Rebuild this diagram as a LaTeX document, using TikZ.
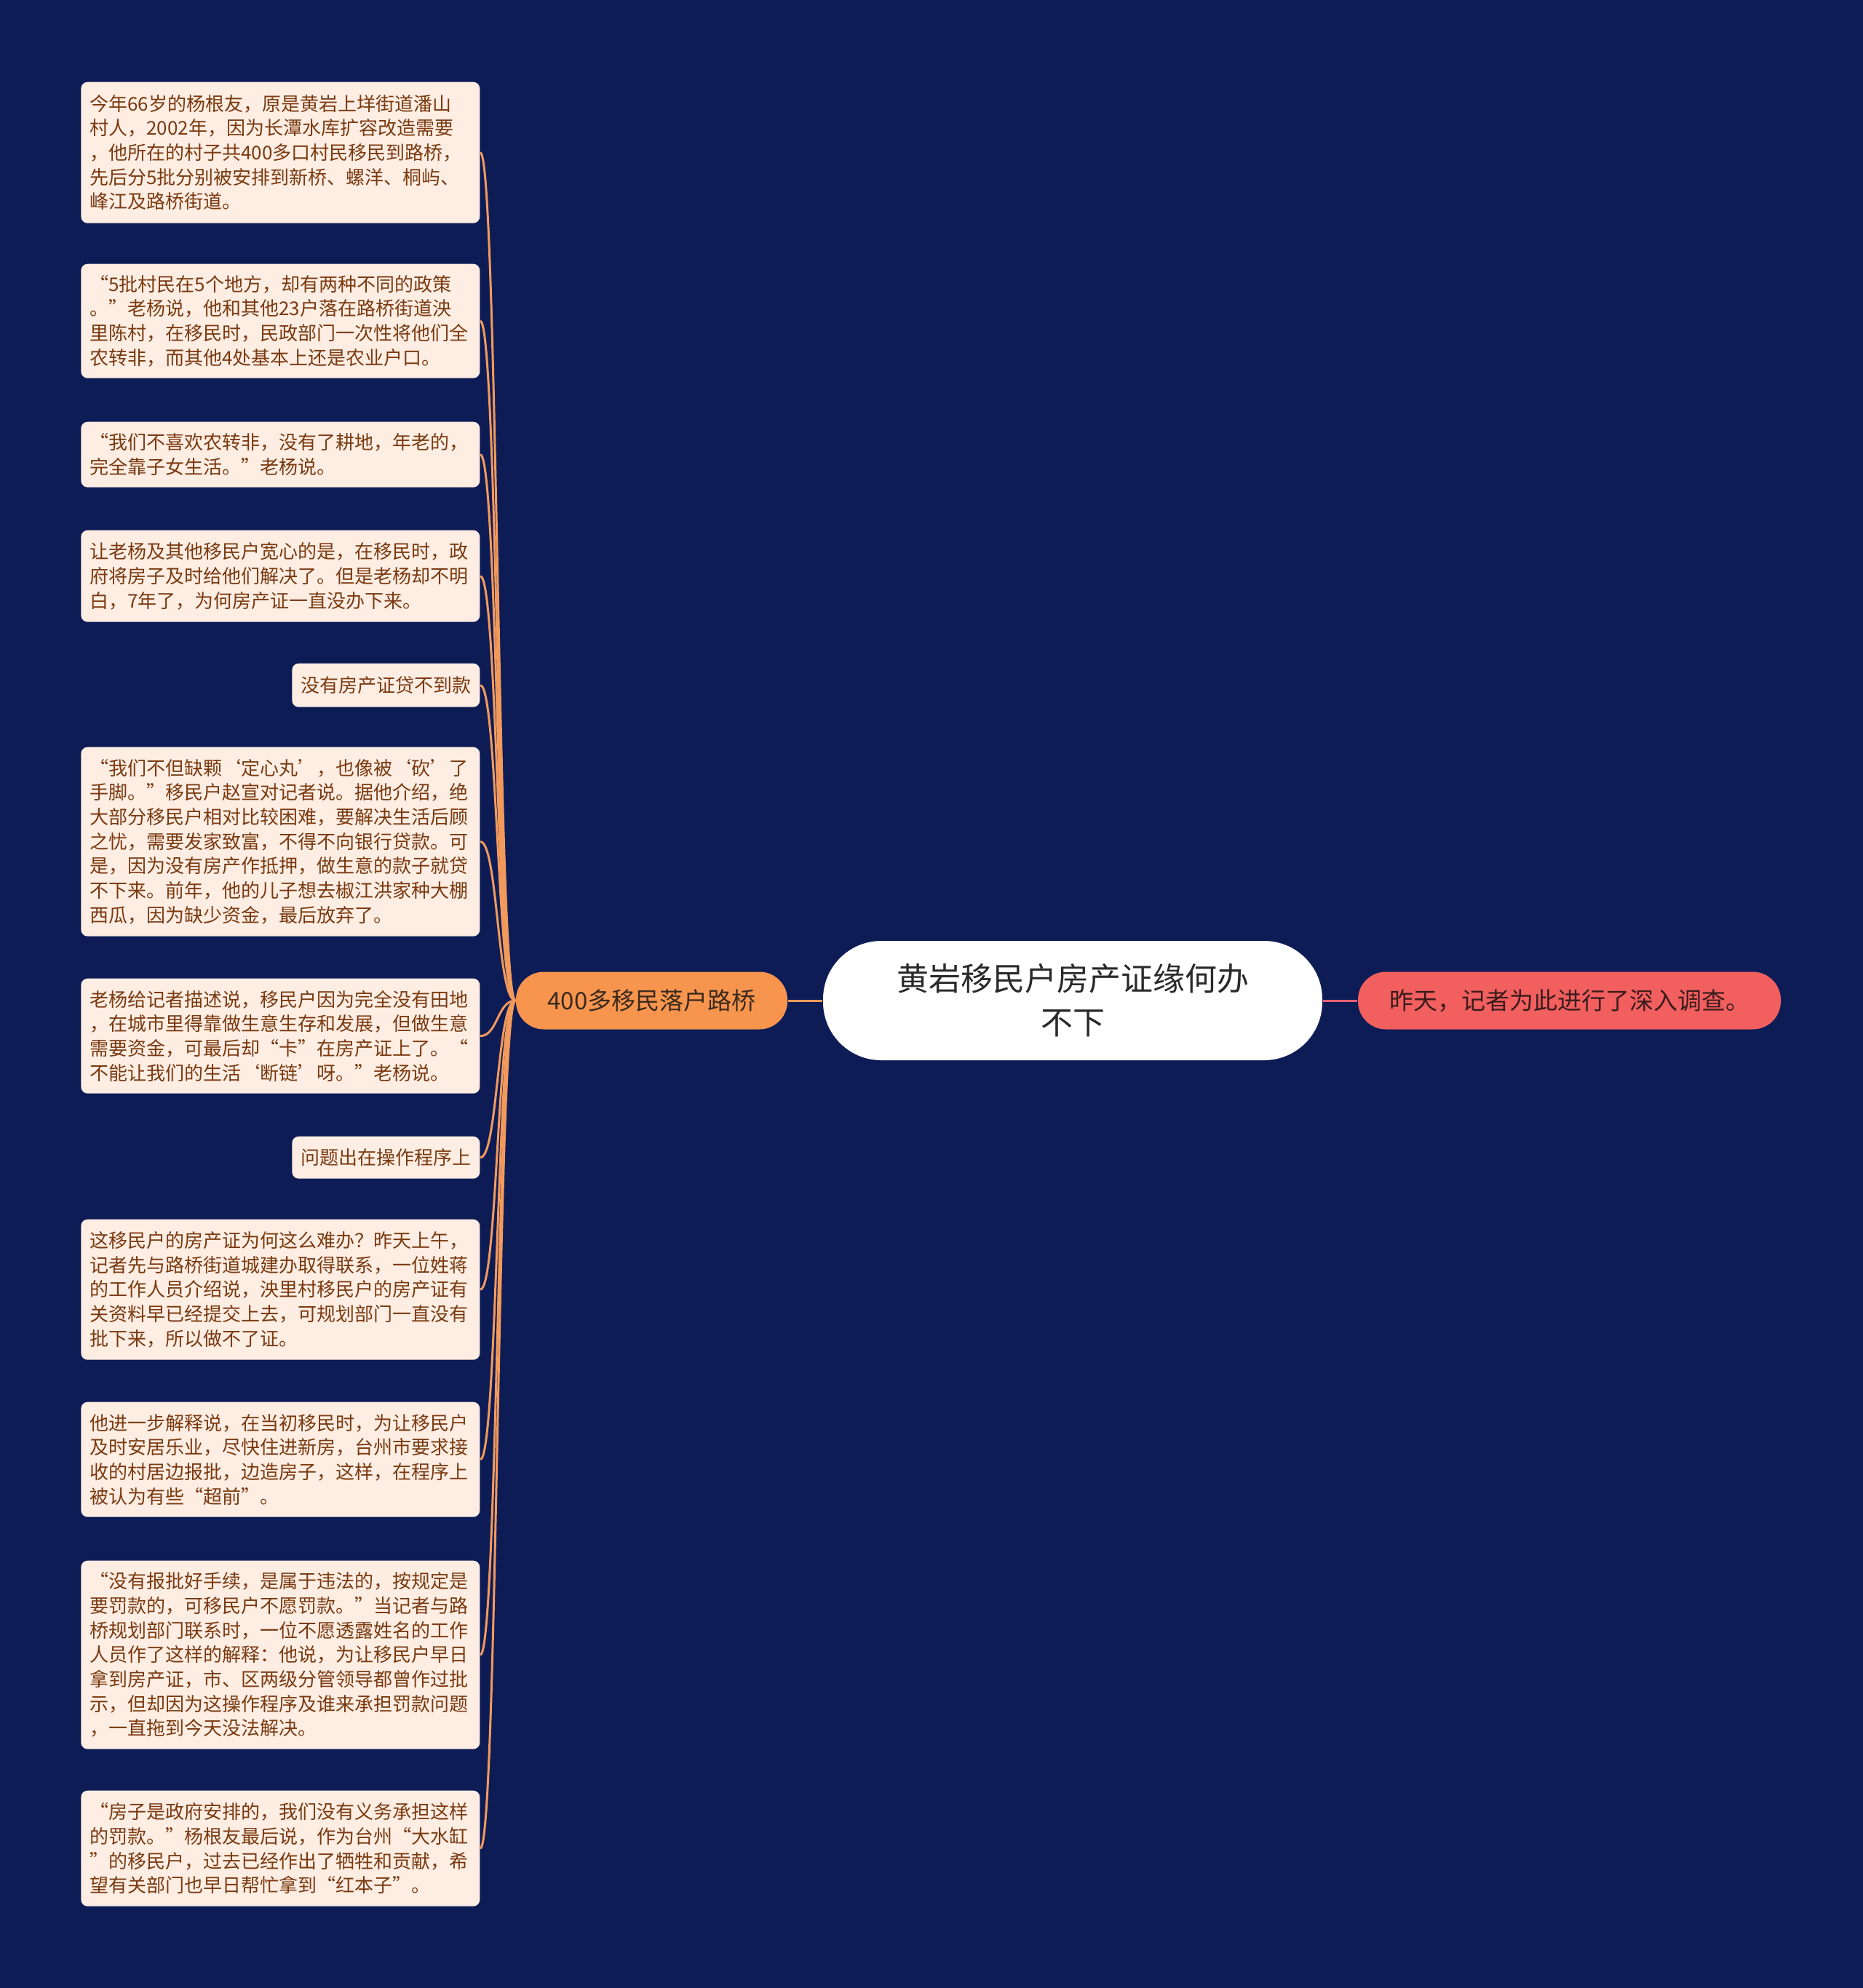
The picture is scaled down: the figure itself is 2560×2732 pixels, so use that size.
\documentclass[tikz,border=0pt]{standalone}
\usepackage{fontspec}
\newfontfamily\cjk{Noto Sans CJK SC}
\usetikzlibrary{calc}
\definecolor{bg}{HTML}{0E1C56}
\definecolor{boxfill}{HTML}{FDEDE3}
\definecolor{boxtext}{HTML}{7A3A10}
\definecolor{linkcol}{HTML}{F29A5C}
\definecolor{branchfill}{HTML}{F7954F}
\definecolor{branchtext}{HTML}{3A2A1C}
\definecolor{rightfill}{HTML}{F25F5F}
\definecolor{righttext}{HTML}{3A1C1C}
\definecolor{rightlink}{HTML}{E86070}
\definecolor{centertext}{HTML}{2A2A2A}
\tikzset{
  leaf/.style={draw=none, fill=boxfill, text=boxtext, rounded corners=2.7pt,
    font=\cjk\fontsize{7.8pt}{10.1pt}\selectfont, align=left,
    inner xsep=3.6pt, inner ysep=0pt, anchor=north east},
  wide/.style={leaf, text width=157.2pt},
  link/.style={draw=linkcol, line width=0.9pt},
  branchnode/.style={fill=branchfill, text=branchtext, rounded corners=11.5pt,
    minimum width=111.9pt, minimum height=23.7pt, inner sep=0pt,
    font=\cjk\fontsize{9.9pt}{12pt}\selectfont},
  rightnode/.style={fill=rightfill, text=righttext, rounded corners=11.5pt,
    minimum width=174.3pt, minimum height=23.7pt, inner sep=0pt,
    font=\cjk\fontsize{9.9pt}{12pt}\selectfont},
  centernode/.style={fill=white, text=centertext, rounded corners=24pt,
    minimum width=205.8pt, minimum height=49.2pt, inner sep=0pt, align=center,
    font=\cjk\fontsize{13.2pt}{18pt}\selectfont}
}
\begin{document}
\begin{tikzpicture}[x=0.3pt,y=-0.3pt]
\fill[bg] (0,0) rectangle (2560,2732);
\useasboundingbox (0,0) rectangle (2560,2732);

\node[centernode] (c) at (1474,1375) {黄岩移民户房产证缘何办\\不下};
\node[branchnode] (br) at (895.5,1375) {400多移民落户路桥};
\node[rightnode] (r) at (2156.5,1375) {昨天，记者为此进行了深入调查。};

\node[wide, minimum height=58.2pt] (b1) at (660,112) {今年66岁的杨根友，原是黄岩上垟街道潘山\\村人，2002年，因为长潭水库扩容改造需要\\，他所在的村子共400多口村民移民到路桥，\\先后分5批分别被安排到新桥、螺洋、桐屿、\\峰江及路桥街道。};
\node[wide, minimum height=47.1pt] (b2) at (660,362) {“5批村民在5个地方，却有两种不同的政策\\。”老杨说，他和其他23户落在路桥街道泱\\里陈村，在移民时，民政部门一次性将他们全\\农转非，而其他4处基本上还是农业户口。};
\node[wide, minimum height=27pt] (b3) at (660,579) {“我们不喜欢农转非，没有了耕地，年老的，\\完全靠子女生活。”老杨说。};
\node[wide, minimum height=37.8pt] (b4) at (660,728) {让老杨及其他移民户宽心的是，在移民时，政\\府将房子及时给他们解决了。但是老杨却不明\\白，7年了，为何房产证一直没办下来。};
\node[leaf, minimum height=18pt] (b5) at (660,911) {没有房产证贷不到款};
\node[wide, minimum height=78pt] (b6) at (660,1026) {“我们不但缺颗‘定心丸’，也像被‘砍’了\\手脚。”移民户赵宣对记者说。据他介绍，绝\\大部分移民户相对比较困难，要解决生活后顾\\之忧，需要发家致富，不得不向银行贷款。可\\是，因为没有房产作抵押，做生意的款子就贷\\不下来。前年，他的儿子想去椒江洪家种大棚\\西瓜，因为缺少资金，最后放弃了。};
\node[wide, minimum height=47.4pt] (b7) at (660,1344) {老杨给记者描述说，移民户因为完全没有田地\\，在城市里得靠做生意生存和发展，但做生意\\需要资金，可最后却“卡”在房产证上了。“\\不能让我们的生活‘断链’呀。”老杨说。};
\node[leaf, minimum height=17.4pt] (b8) at (660,1561) {问题出在操作程序上};
\node[wide, minimum height=57.9pt] (b9) at (660,1675) {这移民户的房产证为何这么难办？昨天上午，\\记者先与路桥街道城建办取得联系，一位姓蒋\\的工作人员介绍说，泱里村移民户的房产证有\\关资料早已经提交上去，可规划部门一直没有\\批下来，所以做不了证。};
\node[wide, minimum height=47.4pt] (b10) at (660,1926) {他进一步解释说，在当初移民时，为让移民户\\及时安居乐业，尽快住进新房，台州市要求接\\收的村居边报批，边造房子，这样，在程序上\\被认为有些“超前”。};
\node[wide, minimum height=77.7pt] (b11) at (660,2144) {“没有报批好手续，是属于违法的，按规定是\\要罚款的，可移民户不愿罚款。”当记者与路\\桥规划部门联系时，一位不愿透露姓名的工作\\人员作了这样的解释：他说，为让移民户早日\\拿到房产证，市、区两级分管领导都曾作过批\\示，但却因为这操作程序及谁来承担罚款问题\\，一直拖到今天没法解决。};
\node[wide, minimum height=47.7pt] (b12) at (660,2460) {“房子是政府安排的，我们没有义务承担这样\\的罚款。”杨根友最后说，作为台州“大水缸\\”的移民户，过去已经作出了牺牲和贡献，希\\望有关部门也早日帮忙拿到“红本子”。};

\foreach \b in {b1,b2,b3,b4,b5,b6,b7,b8,b9,b10,b11,b12}{
  \draw[link] (br.west) .. controls +(-25,0) and +(24,0) .. (\b.east);
}
\draw[link] (br.east) -- (c.west);
\draw[draw=rightlink, line width=0.9pt] (c.east) -- (r.west);
\end{tikzpicture}
\end{document}
